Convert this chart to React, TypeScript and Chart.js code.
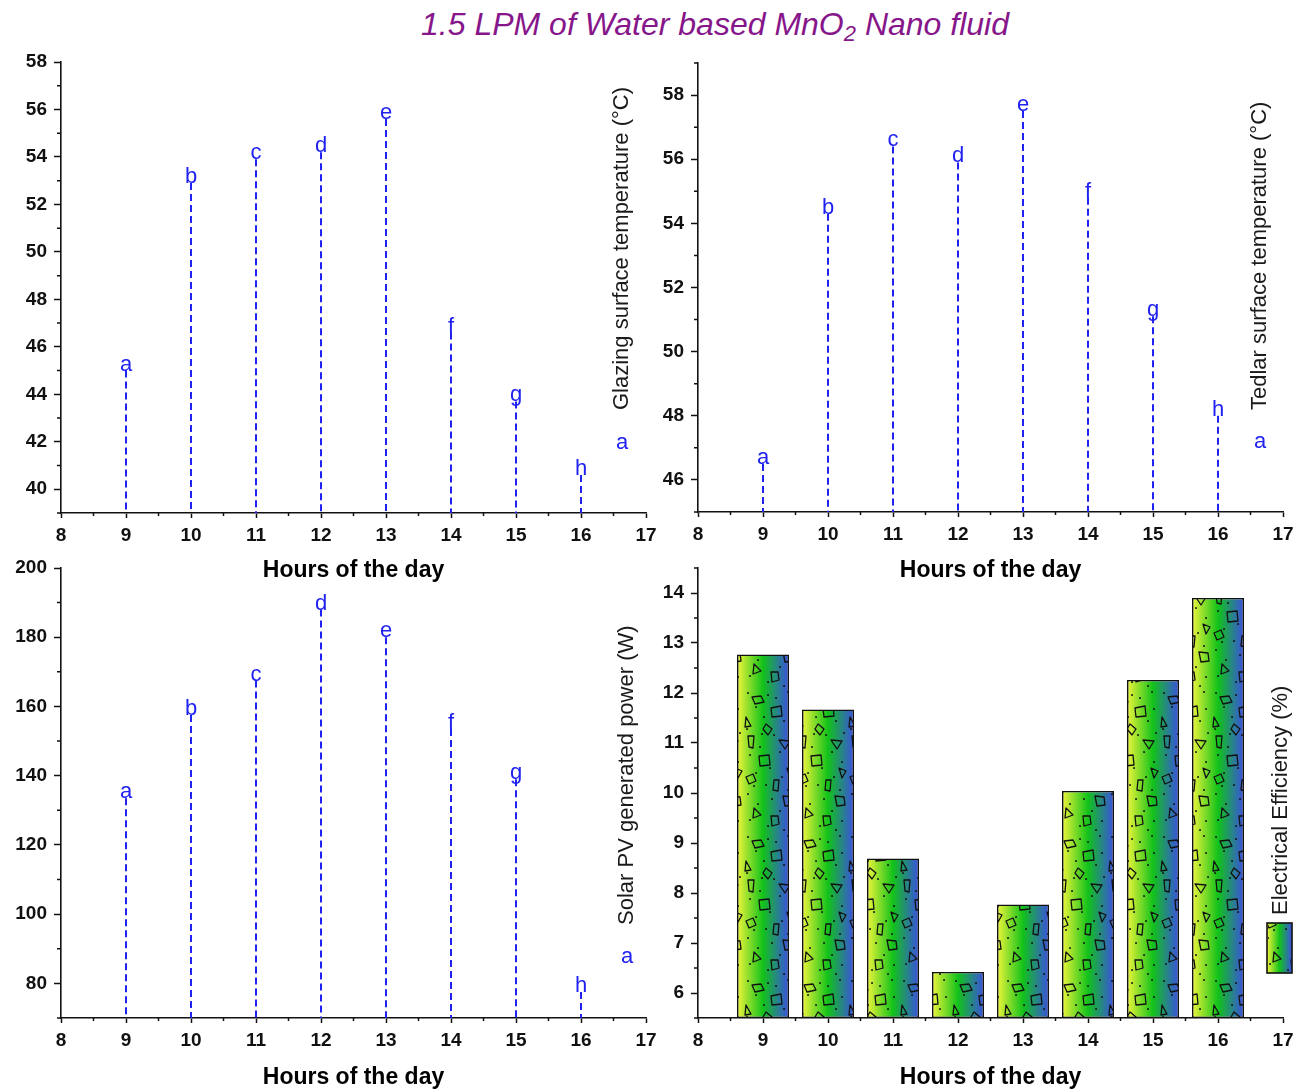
import React, { useEffect, useRef } from 'react';
import { Chart, registerables } from 'chart.js';

Chart.register(...registerables);

// ---- data ----
const hours = [9, 10, 11, 12, 13, 14, 15, 16];
const hourTicks = [8, 9, 10, 11, 12, 13, 14, 15, 16, 17];
const pointLabels = ['a', 'b', 'c', 'd', 'e', 'f', 'g', 'h'];

const glazingTemp = [45.0, 52.9, 53.9, 54.2, 55.6, 46.6, 43.7, 40.6];
const glazingTicks = [40, 42, 44, 46, 48, 50, 52, 54, 56, 58];

const tedlarTemp = [46.5, 54.3, 56.4, 55.9, 57.5, 54.8, 51.1, 48.0];
const tedlarTicks = [46, 48, 50, 52, 54, 56, 58];

const pvPower = [133.5, 157.5, 167.5, 188, 180, 153.5, 139, 77.5];
const powerTicks = [80, 100, 120, 140, 160, 180, 200];

const electricalEfficiency = [12.77, 11.67, 8.69, 6.42, 7.77, 10.04, 12.26, 13.9];
const efficiencyTicks = [6, 7, 8, 9, 10, 11, 12, 13, 14];

// ---- styling ----
const FONT = "'Liberation Sans', Arial, Helvetica, sans-serif";
const BLUE = '#1f22f0';
const INK = '#111111';
const TITLE_SIZE = 23;

Chart.defaults.font.family = FONT;

type Box = { left: number; top: number; width: number; height: number };
type Area = { left: number; top: number; right: number; bottom: number };

interface PanelSpec {
  canvas: Box;
  area: Area;
  titleCenterY: number;
  yMin: number;
  yMax: number;
  yTicks: number[];
  yMinor: number;
  values: number[];
  kind: 'stem' | 'bar';
  legendText: string;
  legendX: number;
  legendTextBottom: number;
  legendSymbolY?: number;
  legendBox?: Box;
}

const panels: PanelSpec[] = [
  {
    canvas: { left: 0, top: 40, width: 680, height: 560 },
    area: { left: 61, top: 62, right: 646, bottom: 513 },
    titleCenterY: 571,
    yMin: 39, yMax: 58, yTicks: glazingTicks, yMinor: 1,
    values: glazingTemp, kind: 'stem',
    legendText: 'Glazing surface temperature (°C)',
    legendX: 622, legendTextBottom: 410, legendSymbolY: 443,
  },
  {
    canvas: { left: 640, top: 40, width: 666, height: 560 },
    area: { left: 698, top: 63, right: 1283, bottom: 512 },
    titleCenterY: 571,
    yMin: 45, yMax: 59, yTicks: tedlarTicks, yMinor: 1,
    values: tedlarTemp, kind: 'stem',
    legendText: 'Tedlar surface temperature (°C)',
    legendX: 1260, legendTextBottom: 410, legendSymbolY: 442,
  },
  {
    canvas: { left: 0, top: 545, width: 680, height: 547 },
    area: { left: 61, top: 568, right: 646, bottom: 1018 },
    titleCenterY: 1078,
    yMin: 70, yMax: 200, yTicks: powerTicks, yMinor: 10,
    values: pvPower, kind: 'stem',
    legendText: 'Solar PV generated power (W)',
    legendX: 627, legendTextBottom: 925, legendSymbolY: 957,
  },
  {
    canvas: { left: 640, top: 545, width: 666, height: 547 },
    area: { left: 698, top: 568, right: 1283, bottom: 1018 },
    titleCenterY: 1078,
    yMin: 5.5, yMax: 14.5, yTicks: efficiencyTicks, yMinor: 0.5,
    values: electricalEfficiency, kind: 'bar',
    legendText: 'Electrical Efficiency (%)',
    legendX: 1281, legendTextBottom: 915,
    legendBox: { left: 1267, top: 923, width: 25, height: 50 },
  },
];

// Decorative texture for the efficiency bars (dots and small outlined shapes)
const textureDots: [number, number][] = [
  [4, 4], [24, 6], [44, 3], [32, 9], [12, 18], [46, 20], [20, 28], [40, 32], [3, 40],
  [18, 45], [30, 46], [48, 44], [16, 58], [36, 63], [6, 66], [26, 79], [46, 73],
  [12, 84], [38, 88], [22, 96], [10, 97], [4, 105], [44, 101], [28, 110], [14, 115],
  [36, 122], [6, 131], [24, 137], [46, 132], [40, 141],
];
const textureShapes: [number, number][][] = [
  [[8, 8], [17, 7], [20, 13], [11, 15]],
  [[27, 19], [37, 17], [38, 27], [28, 28]],
  [[2, 28], [7, 37], [1, 38]],
  [[22, 35], [28, 40], [24, 46], [19, 40]],
  [[4, 47], [10, 47], [9, 59], [5, 58]],
  [[35, 51], [46, 52], [41, 60]],
  [[15, 67], [25, 66], [26, 76], [16, 77]],
  [[43, 79], [50, 82], [46, 89]],
  [[2, 88], [9, 85], [12, 92], [5, 95]],
  [[30, 91], [35, 91], [34, 102], [29, 101]],
  [[39, 107], [48, 108], [49, 116], [41, 117]],
  [[10, 119], [17, 126], [9, 129]],
  [[27, 127], [34, 127], [35, 135], [28, 137]],
];

function makeTexture(): HTMLCanvasElement {
  const c = document.createElement('canvas');
  c.width = 52;
  c.height = 144;
  const g = c.getContext('2d')!;
  g.fillStyle = INK;
  for (const [x, y] of textureDots) g.fillRect(x - 0.8, y - 0.8, 1.7, 1.7);
  g.strokeStyle = INK;
  g.lineWidth = 1.3;
  g.lineJoin = 'round';
  for (const poly of textureShapes) {
    g.beginPath();
    poly.forEach(([x, y], i) => (i ? g.lineTo(x, y) : g.moveTo(x, y)));
    g.closePath();
    g.stroke();
  }
  return c;
}

const FALLBACK_GREEN = '#12c21a';

function barGradient(ctx: CanvasRenderingContext2D, left: number, right: number): CanvasGradient | string {
  if (!Number.isFinite(left) || !Number.isFinite(right) || left === right) return FALLBACK_GREEN;
  const g = ctx.createLinearGradient(left, 0, right, 0);
  g.addColorStop(0, '#f0f53a');
  g.addColorStop(0.5, '#12c21a');
  g.addColorStop(1, '#3a50e2');
  return g;
}

function texturedRect(ctx: CanvasRenderingContext2D, texture: HTMLCanvasElement, l: number, t: number, w: number, h: number) {
  if (![l, t, w, h].every(Number.isFinite) || w <= 2 || h <= 2) return;
  const pattern = ctx.createPattern(texture, 'repeat');
  ctx.save();
  ctx.beginPath();
  ctx.rect(l + 1, t + 1, w - 2, h - 2);
  ctx.clip();
  if (pattern) {
    ctx.fillStyle = pattern;
    ctx.fillRect(l, t, w, h);
  }
  ctx.restore();
}

const isMajor = (list: number[], v: number) => list.some((t) => Math.abs(t - v) < 1e-6);

function buildChart(canvas: HTMLCanvasElement, p: PanelSpec, texture: HTMLCanvasElement) {
  const padTop = p.area.top - p.canvas.top;
  const padRight = p.canvas.left + p.canvas.width - p.area.right;
  const yWidth = p.area.left - p.canvas.left;
  const xHeight = p.canvas.height - padTop - (p.area.bottom - p.area.top);
  const titlePadBottom = Math.max(0, p.canvas.top + p.canvas.height - p.titleCenterY - TITLE_SIZE * 0.6);
  const toLocalX = (x: number) => x - p.canvas.left;
  const toLocalY = (y: number) => y - p.canvas.top;

  const points = hours.map((h, i) => ({ x: h, y: p.values[i] }));
  const isBar = p.kind === 'bar';

  const dataset: any = isBar
    ? {
        type: 'bar',
        data: points,
        base: p.yMin,
        categoryPercentage: 0.8,
        barPercentage: 1,
        borderColor: INK,
        borderWidth: 1.6,
        borderSkipped: false,
        backgroundColor: (ctx: any) => {
          const chart = ctx.chart;
          const xs = chart.scales && chart.scales.x;
          const raw = ctx.raw;
          if (!xs || !raw || !chart.chartArea) return FALLBACK_GREEN;
          const cx = xs.getPixelForValue(raw.x);
          const half = Math.abs(xs.getPixelForValue(raw.x + 0.4) - cx);
          return barGradient(chart.ctx, cx - half, cx + half);
        },
      }
    : {
        type: 'scatter',
        data: points,
        pointRadius: 0,
        showLine: false,
      };

  const minorTicksPlugin = {
    id: 'minorTicks',
    afterDraw(chart: any) {
      const { ctx, chartArea: a } = chart;
      const xs = chart.scales.x;
      const ys = chart.scales.y;
      ctx.save();
      ctx.strokeStyle = INK;
      ctx.lineWidth = 1.5;
      ctx.beginPath();
      for (let v = xs.min; v <= xs.max + 1e-6; v += 0.5) {
        if (isMajor(hourTicks, v)) continue;
        const px = xs.getPixelForValue(v);
        ctx.moveTo(px, a.bottom);
        ctx.lineTo(px, a.bottom + 3);
      }
      for (let v = ys.min; v <= ys.max + 1e-6; v += p.yMinor) {
        if (isMajor(p.yTicks, v)) continue;
        const py = ys.getPixelForValue(v);
        ctx.moveTo(a.left - 4, py);
        ctx.lineTo(a.left, py);
      }
      ctx.stroke();
      ctx.restore();
    },
  };

  const dropStemPlugin = {
    id: 'dropStems',
    afterDatasetsDraw(chart: any) {
      const { ctx, chartArea: a } = chart;
      const meta = chart.getDatasetMeta(0);
      ctx.save();
      ctx.strokeStyle = BLUE;
      ctx.lineWidth = 2;
      ctx.setLineDash([7, 4]);
      meta.data.forEach((el: any) => {
        ctx.beginPath();
        ctx.moveTo(el.x, el.y);
        ctx.lineTo(el.x, a.bottom);
        ctx.stroke();
      });
      ctx.setLineDash([]);
      ctx.fillStyle = BLUE;
      ctx.font = `22px ${FONT}`;
      ctx.textAlign = 'center';
      ctx.textBaseline = 'alphabetic';
      meta.data.forEach((el: any, i: number) => {
        ctx.fillText(pointLabels[i], el.x, el.y);
      });
      ctx.restore();
    },
  };

  const barTexturePlugin = {
    id: 'barTexture',
    afterDatasetsDraw(chart: any) {
      const { ctx } = chart;
      const meta = chart.getDatasetMeta(0);
      meta.data.forEach((el: any) => {
        const { x, y, base, width } = el.getProps(['x', 'y', 'base', 'width'], true);
        texturedRect(ctx, texture, x - width / 2, y, width, base - y);
      });
    },
  };

  const sideLegendPlugin = {
    id: 'sideLegend',
    afterDraw(chart: any) {
      const { ctx } = chart;
      ctx.save();
      ctx.translate(toLocalX(p.legendX), toLocalY(p.legendTextBottom));
      ctx.rotate(-Math.PI / 2);
      ctx.fillStyle = '#1a1a1a';
      ctx.font = `22px ${FONT}`;
      ctx.textAlign = 'left';
      ctx.textBaseline = 'middle';
      ctx.fillText(p.legendText, 0, 0);
      ctx.restore();

      if (p.legendSymbolY !== undefined) {
        ctx.save();
        ctx.fillStyle = BLUE;
        ctx.font = `22px ${FONT}`;
        ctx.textAlign = 'center';
        ctx.textBaseline = 'middle';
        ctx.fillText('a', toLocalX(p.legendX), toLocalY(p.legendSymbolY));
        ctx.restore();
      }
      if (p.legendBox) {
        const b = p.legendBox;
        const l = toLocalX(b.left);
        const t = toLocalY(b.top);
        ctx.save();
        ctx.fillStyle = barGradient(ctx, l, l + b.width);
        ctx.fillRect(l, t, b.width, b.height);
        ctx.restore();
        texturedRect(ctx, texture, l, t, b.width, b.height);
        ctx.save();
        ctx.strokeStyle = INK;
        ctx.lineWidth = 1.6;
        ctx.strokeRect(l, t, b.width, b.height);
        ctx.restore();
      }
    },
  };

  const tickFont = { family: FONT, size: 19, weight: 'bold' as const };

  return new Chart(canvas, {
    type: isBar ? 'bar' : 'scatter',
    data: { datasets: [dataset] },
    options: {
      responsive: false,
      animation: false,
      events: [],
      layout: { padding: { left: 0, top: padTop, right: padRight, bottom: 0 } },
      plugins: {
        legend: { display: false },
        tooltip: { enabled: false },
        title: { display: false },
      },
      scales: {
        x: {
          type: 'linear',
          min: 8,
          max: 17,
          offset: false,
          afterBuildTicks: (s: any) => {
            s.ticks = hourTicks.map((v) => ({ value: v }));
          },
          afterFit: (s: any) => {
            s.height = xHeight;
          },
          grid: {
            display: true,
            offset: false,
            drawOnChartArea: false,
            drawTicks: true,
            tickLength: 5,
            tickWidth: 1.5,
            tickColor: INK,
          },
          border: { display: true, color: INK, width: 1.6 },
          ticks: { color: INK, font: tickFont, padding: 6, maxRotation: 0, autoSkip: false },
          title: {
            display: true,
            text: 'Hours of the day',
            color: '#000',
            font: { family: FONT, size: TITLE_SIZE, weight: 'bold' },
            padding: { top: 0, bottom: titlePadBottom },
          },
        },
        y: {
          type: 'linear',
          min: p.yMin,
          max: p.yMax,
          beginAtZero: false,
          afterBuildTicks: (s: any) => {
            s.ticks = p.yTicks.map((v) => ({ value: v }));
          },
          afterFit: (s: any) => {
            s.width = yWidth;
          },
          grid: {
            display: true,
            drawOnChartArea: false,
            drawTicks: true,
            tickLength: 7,
            tickWidth: 1.5,
            tickColor: INK,
          },
          border: { display: true, color: INK, width: 1.6 },
          ticks: { color: INK, font: tickFont, padding: 7, autoSkip: false },
        },
      },
    } as any,
    plugins: [minorTicksPlugin, isBar ? barTexturePlugin : dropStemPlugin, sideLegendPlugin],
  });
}

export default function App() {
  const refs = useRef<(HTMLCanvasElement | null)[]>([]);

  useEffect(() => {
    const texture = makeTexture();
    const charts: Chart[] = [];
    panels.forEach((p, i) => {
      const el = refs.current[i];
      if (el) charts.push(buildChart(el, p, texture));
    });
    return () => charts.forEach((c) => c.destroy());
  }, []);

  return (
    <div
      style={{
        position: 'absolute',
        left: 0,
        top: 0,
        width: 1306,
        height: 1092,
        background: '#fff',
        overflow: 'hidden',
      }}
    >
      <div
        style={{
          position: 'absolute',
          left: 315,
          top: 9,
          width: 800,
          textAlign: 'center',
          fontFamily: FONT,
          fontStyle: 'italic',
          fontSize: 32,
          lineHeight: '31px',
          color: '#86168a',
          whiteSpace: 'nowrap',
        }}
      >
        1.5 LPM of Water based MnO<sub style={{ fontSize: 22, verticalAlign: -6, lineHeight: 0 }}>2</sub> Nano fluid
      </div>
      {panels.map((p, i) => (
        <canvas
          key={i}
          ref={(el) => {
            refs.current[i] = el;
          }}
          width={p.canvas.width}
          height={p.canvas.height}
          style={{
            position: 'absolute',
            left: p.canvas.left,
            top: p.canvas.top,
            width: p.canvas.width,
            height: p.canvas.height,
          }}
        />
      ))}
    </div>
  );
}
